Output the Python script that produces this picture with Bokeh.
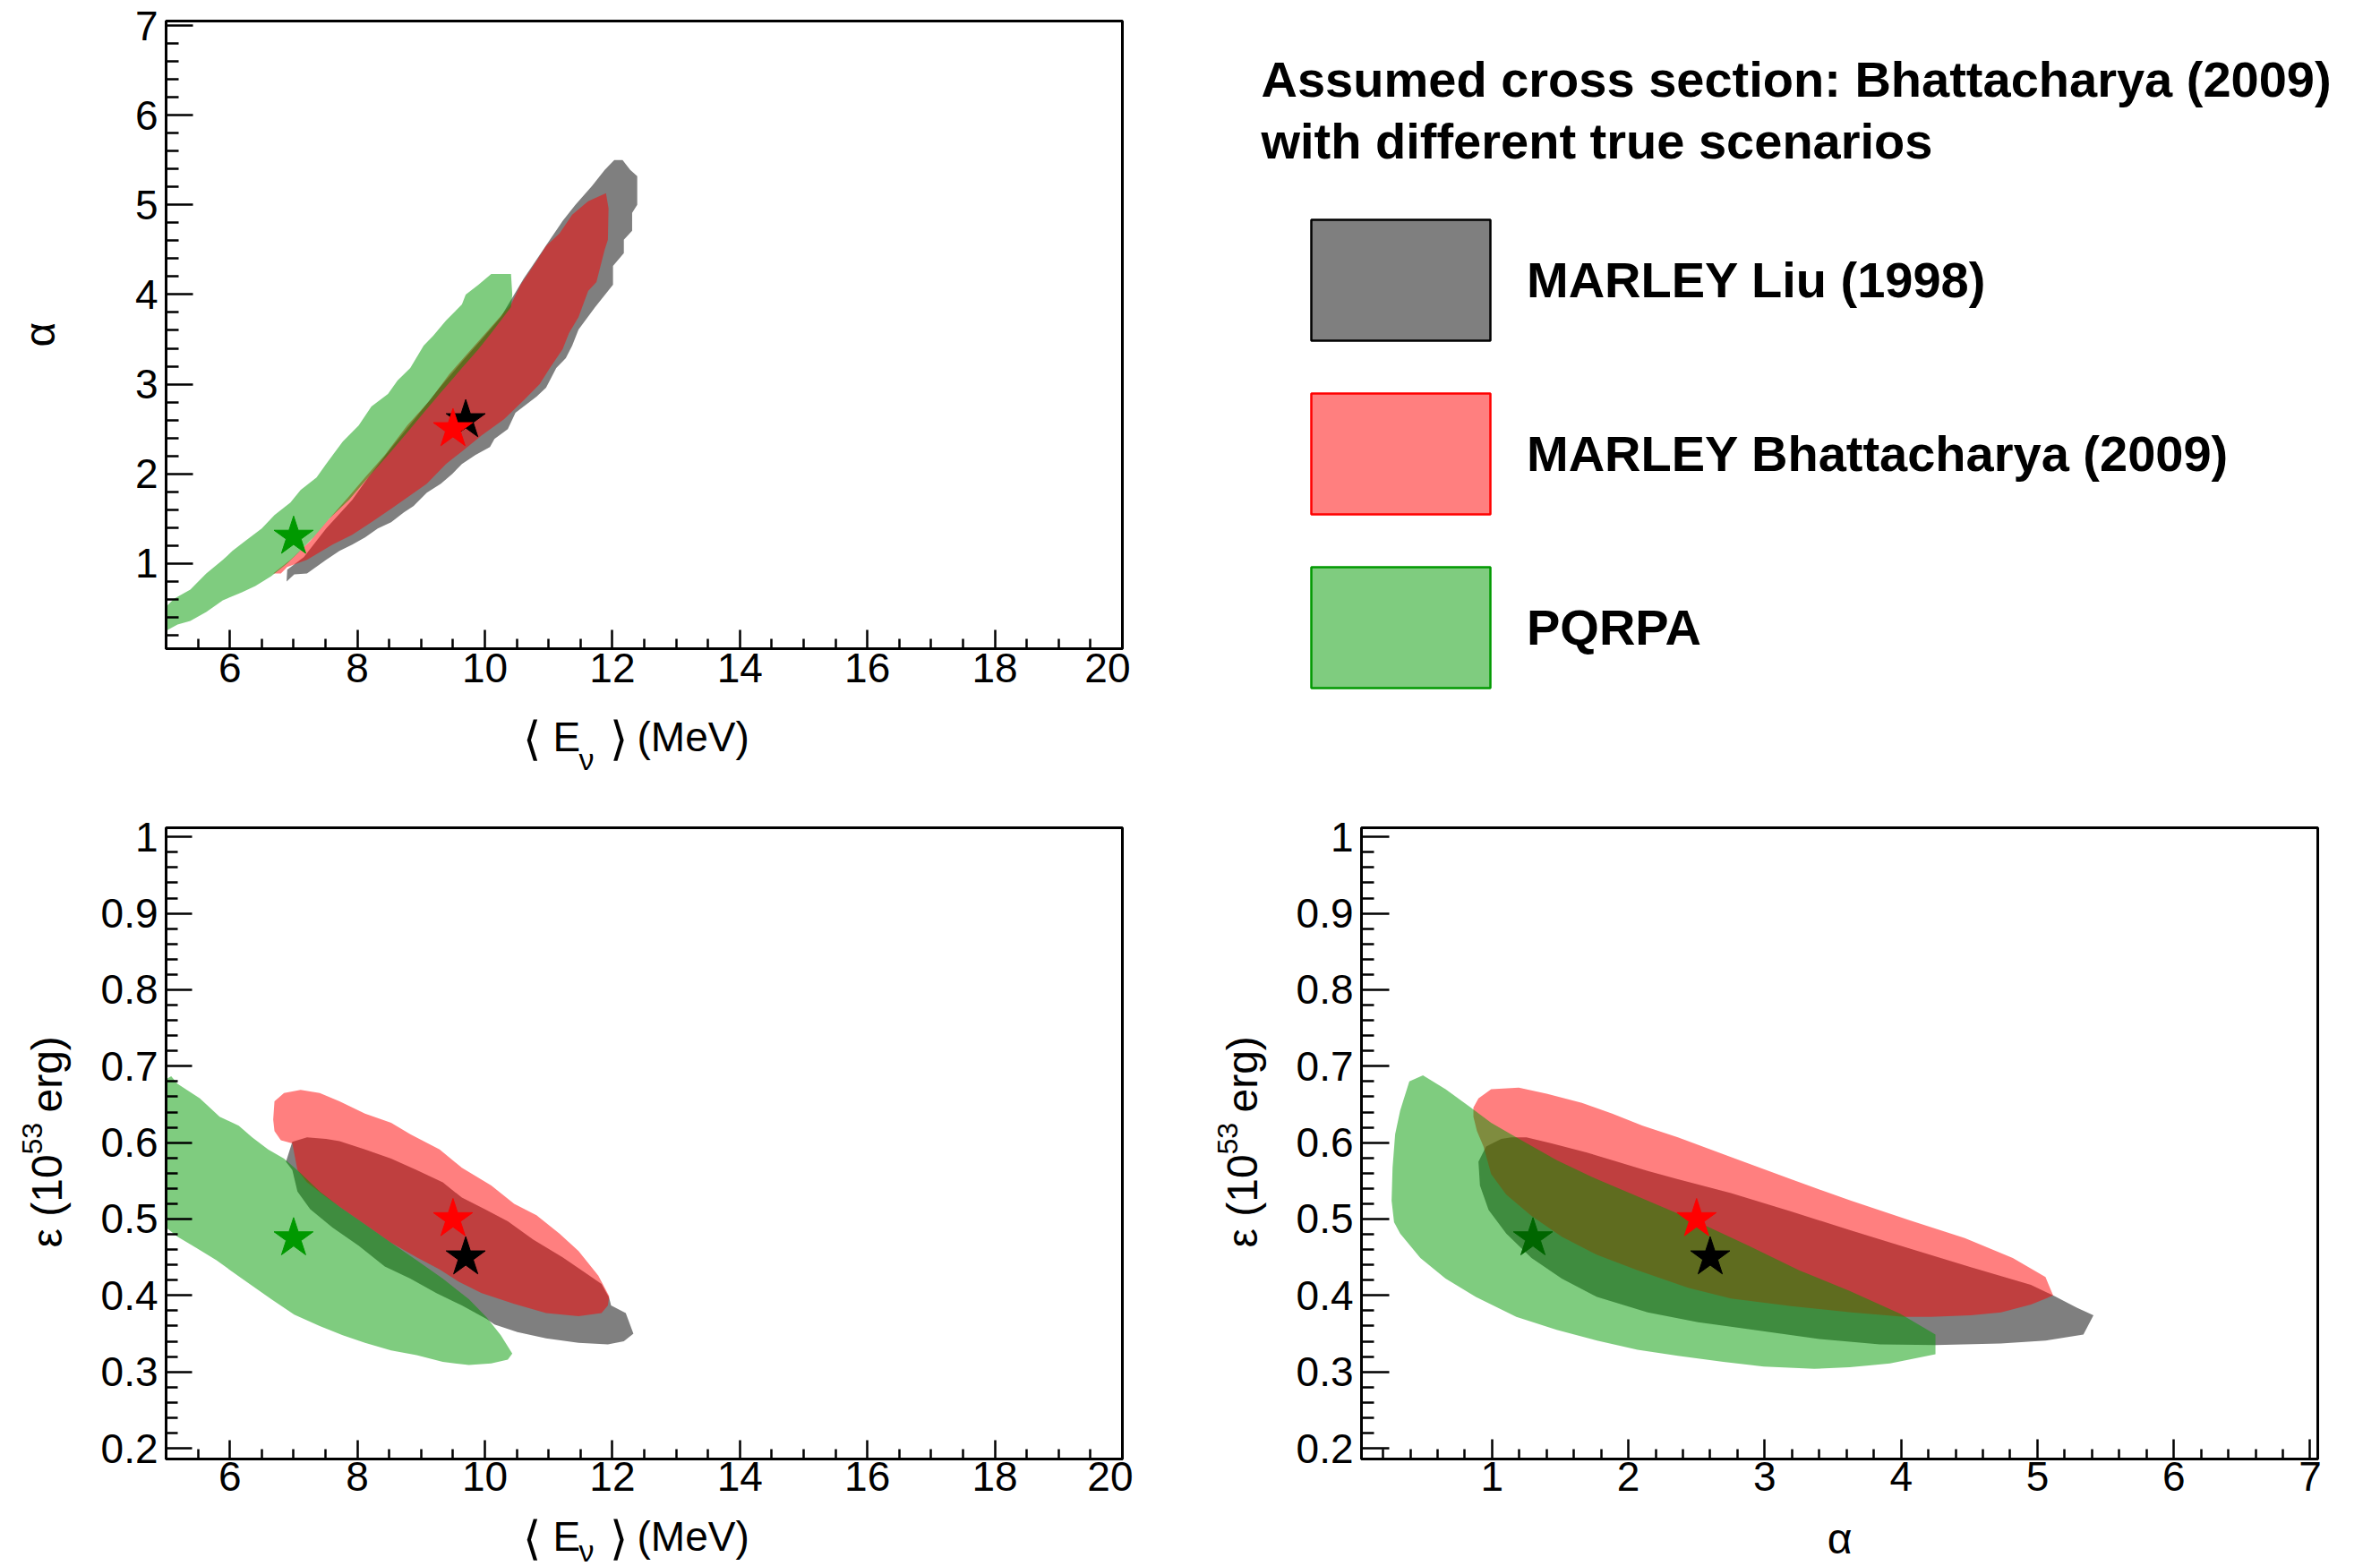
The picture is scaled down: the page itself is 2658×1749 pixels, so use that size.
import math
from bokeh.plotting import figure
from bokeh.models import Range1d, FixedTicker, Label, Legend, LegendItem
from bokeh.layouts import column, row
from bokeh.embed import file_html
from bokeh.resources import INLINE

FONT = "Liberation Sans"
GRAY = "black"
RED = "red"
GREEN = "#009900"
GREEN_DARK = "#006600"
NAN = float("nan")

# ---------------- data ----------------
# top-left panel: alpha vs <E_nu> (MeV)
tl_gray = [(6.89,0.80),(6.90,0.93),(7.16,1.07),(7.51,1.39),(7.92,1.71),(8.17,1.96),(8.53,2.29),
           (8.93,2.64),(9.29,2.96),(9.64,3.25),(9.95,3.50),(10.25,3.75),(10.46,4.00),(10.61,4.18),
           (10.81,4.39),(11.02,4.61),(11.22,4.82),(11.42,5.00),(11.68,5.21),(11.88,5.39),(12.03,5.50),
           (12.16,5.50),(12.28,5.39),(12.39,5.32),(12.39,5.00),(12.31,4.91),(12.31,4.71),(12.18,4.61),
           (12.18,4.46),(12.01,4.32),(12.01,4.11),(11.73,3.86),(11.47,3.61),(11.37,3.43),(11.27,3.29),
           (11.12,3.18),(10.96,2.96),(10.81,2.86),(10.48,2.68),(10.36,2.50),(10.15,2.39),(10.08,2.30),
           (9.85,2.21),(9.64,2.11),(9.49,2.00),(9.31,1.89),(9.09,1.79),(8.88,1.64),(8.73,1.57),
           (8.53,1.46),(8.32,1.39),(8.12,1.29),(7.92,1.21),(7.72,1.14),(7.51,1.04),(7.21,0.89),(7.01,0.88)]
tl_red = [(6.68,0.89),(6.95,1.04),(7.26,1.25),(7.51,1.46),(7.87,1.75),(8.12,1.96),(8.43,2.21),
          (8.78,2.54),(9.14,2.82),(9.44,3.11),(9.75,3.36),(10.10,3.64),(10.41,3.89),(10.56,4.11),
          (10.76,4.32),(10.96,4.54),(11.17,4.68),(11.37,4.89),(11.62,5.04),(11.90,5.13),(11.94,4.96),
          (11.93,4.61),(11.88,4.50),(11.75,4.14),(11.62,4.04),(11.47,3.75),(11.32,3.57),(11.22,3.39),
          (11.02,3.18),(10.86,3.00),(10.61,2.82),(10.30,2.61),(9.95,2.43),(9.64,2.25),(9.39,2.11),
          (9.09,1.89),(8.73,1.71),(8.53,1.61),(8.22,1.46),(7.92,1.32),(7.61,1.21),(7.21,1.04),
          (6.90,0.96),(6.80,0.89)]
tl_green = [(5.00,0.52),(5.00,0.25),(5.18,0.32),(5.38,0.36),(5.63,0.46),(5.89,0.59),(6.19,0.68),
            (6.40,0.75),(6.65,0.86),(6.90,1.00),(7.06,1.11),(7.31,1.29),(7.56,1.50),(7.87,1.71),
            (8.17,1.96),(8.48,2.21),(8.78,2.46),(9.04,2.68),(9.29,2.89),(9.64,3.18),(9.90,3.39),
            (10.10,3.57),(10.41,3.86),(10.43,4.00),(10.41,4.23),(10.10,4.23),(9.90,4.11),(9.70,4.00),
            (9.64,3.89),(9.39,3.71),(9.19,3.54),(9.04,3.43),(8.83,3.18),(8.63,3.04),(8.48,2.89),
            (8.22,2.75),(8.02,2.54),(7.77,2.36),(7.51,2.11),(7.36,1.96),(7.11,1.82),(6.95,1.68),
            (6.70,1.54),(6.50,1.39),(6.24,1.25),(6.04,1.14),(5.89,1.04),(5.63,0.89),(5.38,0.71),
            (5.13,0.61)]

# bottom-left panel: epsilon (1e53 erg) vs <E_nu> (MeV)
bl_gray = [(6.88,0.575),(6.98,0.601),(7.21,0.607),(7.51,0.605),(7.72,0.602),(8.12,0.591),(8.53,0.579),
           (8.93,0.564),(9.34,0.548),(9.64,0.528),(10.00,0.513),(10.36,0.497),(10.76,0.473),(11.22,0.450),
           (11.57,0.430),(11.83,0.415),(11.95,0.397),(11.98,0.387),(12.21,0.377),(12.33,0.350),
           (12.18,0.340),(11.93,0.336),(11.47,0.338),(10.96,0.344),(10.51,0.352),(10.15,0.362),
           (10.03,0.369),(9.64,0.387),(9.24,0.403),(8.83,0.422),(8.43,0.438),(8.02,0.465),(7.61,0.489),
           (7.26,0.513),(7.06,0.536),(6.98,0.564)]
bl_red = [(6.68,0.630),(6.70,0.654),(6.85,0.665),(7.11,0.669),(7.41,0.665),(7.72,0.654),(8.12,0.638),
          (8.53,0.626),(8.83,0.611),(9.29,0.591),(9.64,0.567),(10.10,0.544),(10.46,0.520),(10.81,0.505),
          (11.17,0.481),(11.47,0.458),(11.78,0.426),(11.95,0.399),(11.93,0.387),(11.83,0.377),
          (11.47,0.373),(10.96,0.377),(10.46,0.389),(9.95,0.403),(9.59,0.418),(9.29,0.434),(8.93,0.450),
          (8.53,0.469),(8.12,0.493),(7.72,0.516),(7.46,0.532),(7.21,0.548),(7.06,0.564),(6.98,0.599),
          (6.80,0.603),(6.70,0.615)]
bl_green = [(5.00,0.683),(5.08,0.687),(5.18,0.677),(5.53,0.658),(5.84,0.634),(6.14,0.622),(6.35,0.607),
            (6.60,0.591),(6.85,0.579),(7.11,0.560),(7.41,0.536),(7.72,0.516),(8.12,0.493),(8.53,0.469),
            (8.93,0.446),(9.34,0.422),(9.75,0.395),(10.03,0.371),(10.25,0.348),(10.43,0.324),
            (10.36,0.316),(10.10,0.311),(9.75,0.309),(9.34,0.313),(8.93,0.322),(8.53,0.328),(8.12,0.338),
            (7.77,0.348),(7.41,0.360),(7.01,0.375),(6.65,0.395),(6.19,0.422),(5.79,0.446),(5.48,0.462),
            (5.18,0.477),(5.00,0.489)]

# bottom-right panel: epsilon (1e53 erg) vs alpha
br_gray = [(1.141,0.607),(1.252,0.607),(1.437,0.599),(1.696,0.587),(1.919,0.575),(2.141,0.563),
           (2.363,0.552),(2.752,0.534),(3.193,0.510),(3.633,0.485),(4.070,0.461),(4.511,0.437),
           (4.952,0.414),(5.115,0.400),(5.289,0.384),(5.411,0.374),(5.337,0.349),(5.059,0.341),
           (4.730,0.337),(4.252,0.335),(3.844,0.336),(3.400,0.343),(2.752,0.359),(2.511,0.365),
           (2.141,0.378),(1.770,0.398),(1.511,0.422),(1.289,0.449),(1.104,0.481),(0.974,0.512),
           (0.911,0.544),(0.900,0.575),(0.956,0.595),(1.067,0.605)]
br_red = [(0.863,0.646),(0.900,0.658),(0.993,0.670),(1.196,0.672),(1.400,0.664),(1.659,0.652),
          (1.881,0.638),(2.104,0.622),(2.363,0.607),(2.752,0.581),(3.193,0.552),(3.633,0.524),
          (4.070,0.498),(4.467,0.475),(4.819,0.449),(5.059,0.424),(5.115,0.400),(4.952,0.388),
          (4.733,0.378),(4.511,0.374),(4.215,0.372),(4.026,0.372),(3.633,0.378),(3.193,0.386),
          (2.752,0.396),(2.437,0.410),(2.067,0.433),(1.770,0.453),(1.511,0.477),(1.289,0.504),
          (1.104,0.532),(0.993,0.559),(0.937,0.595),(0.889,0.615),(0.863,0.634)]
br_green = [(0.493,0.688),(0.393,0.680),(0.326,0.642),(0.289,0.611),(0.270,0.567),(0.263,0.524),
            (0.281,0.496),(0.326,0.481),(0.474,0.449),(0.659,0.422),(0.881,0.398),(1.178,0.372),
            (1.474,0.355),(1.770,0.341),(2.067,0.329),(2.363,0.321),(2.696,0.313),(2.993,0.307),
            (3.363,0.304),(3.622,0.306),(3.919,0.311),(4.252,0.323),(4.252,0.349),(3.993,0.376),
            (3.622,0.406),(3.252,0.433),(2.881,0.465),(2.511,0.496),(2.141,0.524),(1.770,0.552),
            (1.474,0.577),(1.178,0.607),(0.993,0.626),(0.844,0.646),(0.659,0.670)]

# true points (stars)
true_E = {"liu": 9.7, "bhat": 9.5, "pqrpa": 7.0}
true_alpha = {"liu": 2.6, "bhat": 2.5, "pqrpa": 1.3}
true_eps = {"liu": 0.45, "bhat": 0.50, "pqrpa": 0.475}

legend_labels = ["MARLEY Liu (1998)", "MARLEY Bhattacharya (2009)", "PQRPA"]
title_lines = ["Assumed cross section: Bhattacharya (2009)", "with different true scenarios"]

E_ticks = [6, 8, 10, 12, 14, 16, 18, 20]
E_minor = [5.0, 5.5, 6.5, 7.0, 7.5, 8.5, 9.0, 9.5, 10.5, 11.0, 11.5, 12.5, 13.0, 13.5, 14.5, 15.0,
           15.5, 16.5, 17.0, 17.5, 18.5, 19.0, 19.5]
alpha_ticks = [1, 2, 3, 4, 5, 6, 7]
alpha_minor = [round(0.2 * i, 2) for i in range(1, 36) if i % 5 != 0]
eps_ticks = [0.2, 0.3, 0.4, 0.5, 0.6, 0.7, 0.8, 0.9, 1.0]
eps_minor = [round(0.2 + 0.02 * i, 2) for i in range(0, 41) if i % 5 != 0]


def no_align(p):
    try:
        p.frame_align = False
    except Exception:
        pass


def make_panel(xr, yr, fw, fh, left, right, top, bottom):
    p = figure(frame_width=fw, frame_height=fh, x_range=Range1d(*xr), y_range=Range1d(*yr),
               output_backend="svg", toolbar_location=None,
               min_border_left=left, min_border_right=right, min_border_top=top,
               min_border_bottom=bottom)
    p.grid.visible = False
    p.outline_line_color = "black"
    p.outline_line_width = 3
    p.background_fill_color = "white"
    p.border_fill_color = "white"
    no_align(p)
    return p


def text_fig(w, h):
    f = figure(width=w, height=h, x_range=Range1d(0, 1), y_range=Range1d(0, 1),
               x_axis_type=None, y_axis_type=None, output_backend="svg",
               toolbar_location=None, min_border=0, outline_line_color=None)
    f.grid.visible = False
    no_align(f)
    return f


def style_axis(ax, ticks, minor, maj_len, min_len, standoff):
    ax.ticker = FixedTicker(ticks=ticks, minor_ticks=minor)
    ax.axis_line_width = 3
    ax.axis_line_color = "black"
    ax.major_tick_line_width = 2.5
    ax.minor_tick_line_width = 2.5
    ax.major_tick_line_color = "black"
    ax.minor_tick_line_color = "black"
    ax.major_tick_in = maj_len
    ax.major_tick_out = 0
    ax.minor_tick_in = min_len
    ax.minor_tick_out = 0
    ax.major_label_text_font = FONT
    ax.major_label_text_font_size = "46px"
    ax.major_label_text_color = "black"
    ax.major_label_standoff = standoff


def add_shapes(p, gray, red, green):
    for pts, col in ((gray, GRAY), (red, RED), (green, GREEN)):
        p.patch([q[0] for q in pts], [q[1] for q in pts], fill_color=col, fill_alpha=0.5,
                line_color=None)


def add_stars(p, xs, ys, gcol):
    p.scatter([xs["liu"]], [ys["liu"]], marker="star", size=46, color="black")
    p.scatter([xs["bhat"]], [ys["bhat"]], marker="star", size=46, color="red")
    p.scatter([xs["pqrpa"]], [ys["pqrpa"]], marker="star", size=46, color=gcol)


def lab(f, x, y, text, size="46px", angle=0.0, align="left", baseline="alphabetic", style="normal"):
    f.add_layout(Label(x=x, y=y, x_units="screen", y_units="screen", text=text,
                       text_font=FONT, text_font_size=size, angle=angle, text_font_style=style,
                       text_align=align, text_baseline=baseline, text_color="black"))


def E_title(f, yb, ynu):
    lab(f, 503, yb - 2, "⟨", size="52px")
    lab(f, 537, yb, "E")
    lab(f, 566, ynu, "ν", size="34px")
    lab(f, 600, yb - 2, "⟩", size="52px")
    lab(f, 631, yb, "(MeV)")


def eps_title(f, xb, y0):
    a = math.pi / 2
    lab(f, xb, y0, "ε (10", size="48px", angle=a)
    lab(f, xb - 17, y0 + 104, "53", size="32px", angle=a)
    lab(f, xb, y0 + 151, "erg)", size="48px", angle=a)


# ---------------- top row ----------------
p1 = make_panel((5, 20), (0.05, 7.05), 1068, 701, 105, 9, 23, 60)
style_axis(p1.xaxis[0], E_ticks, E_minor, 21, 11, 5)
style_axis(p1.yaxis[0], alpha_ticks, alpha_minor, 30, 14, 9)
add_shapes(p1, tl_gray, tl_red, tl_green)
add_stars(p1, true_E, true_alpha, GREEN)

xt1 = text_fig(1182, 90)
E_title(xt1, 52, 27)
yt1 = text_fig(80, 874)
lab(yt1, 44, 501, "α", size="48px", angle=math.pi / 2, align="center", baseline="middle")

leg = text_fig(1396, 874)
r_gray = leg.patch([NAN], [NAN], fill_color=GRAY, fill_alpha=0.5, line_color="black", line_width=2.5)
r_red = leg.patch([NAN], [NAN], fill_color=RED, fill_alpha=0.5, line_color="red", line_width=2.5)
r_green = leg.patch([NAN], [NAN], fill_color=GREEN, fill_alpha=0.5, line_color=GREEN, line_width=2.5)
legend = Legend(items=[LegendItem(label=legend_labels[0], renderers=[r_gray]),
                       LegendItem(label=legend_labels[1], renderers=[r_red]),
                       LegendItem(label=legend_labels[2], renderers=[r_green])],
                location=(177, 89), glyph_width=250, glyph_height=169, spacing=25,
                label_standoff=16, padding=0, margin=0, border_line_color=None,
                background_fill_alpha=0, label_text_font=FONT, label_text_font_style="bold",
                label_text_font_size="56px", label_text_color="black")
leg.add_layout(legend)
for t, yb in zip(title_lines, [786, 717]):
    lab(leg, 146, yb, t, size="56px", style="bold")

# ---------------- bottom row ----------------
p2 = make_panel((5, 20), (0.186, 1.012), 1068, 705, 105, 12, 50, 56)
style_axis(p2.xaxis[0], E_ticks, E_minor, 21, 11, 3)
style_axis(p2.yaxis[0], eps_ticks, eps_minor, 29, 13, 9)
p2.yaxis[0].major_label_overrides = {1.0: "1"}
add_shapes(p2, bl_gray, bl_red, bl_green)
add_stars(p2, true_E, true_eps, GREEN)
xt2 = text_fig(1185, 64)
E_title(xt2, 34, 18)
yt2 = text_fig(80, 875)
eps_title(yt2, 52, 356)

p3 = make_panel((0.042, 7.056), (0.186, 1.012), 1068, 705, 105, 40, 50, 56)
style_axis(p3.xaxis[0], alpha_ticks, alpha_minor, 22, 11, 3)
style_axis(p3.yaxis[0], eps_ticks, eps_minor, 31, 14, 9)
p3.yaxis[0].major_label_overrides = {1.0: "1"}
add_shapes(p3, br_gray, br_red, br_green)
add_stars(p3, true_alpha, true_eps, GREEN_DARK)
xt3 = text_fig(1213, 64)
lab(xt3, 639, 31, "α", size="48px", align="center", baseline="middle")
yt3 = text_fig(150, 875)
eps_title(yt3, 122, 356)

layout = column(row(yt1, column(p1, xt1), leg),
                row(yt2, column(p2, xt2), yt3, column(p3, xt3)))
open("out.html", "w").write(file_html(layout, INLINE))
